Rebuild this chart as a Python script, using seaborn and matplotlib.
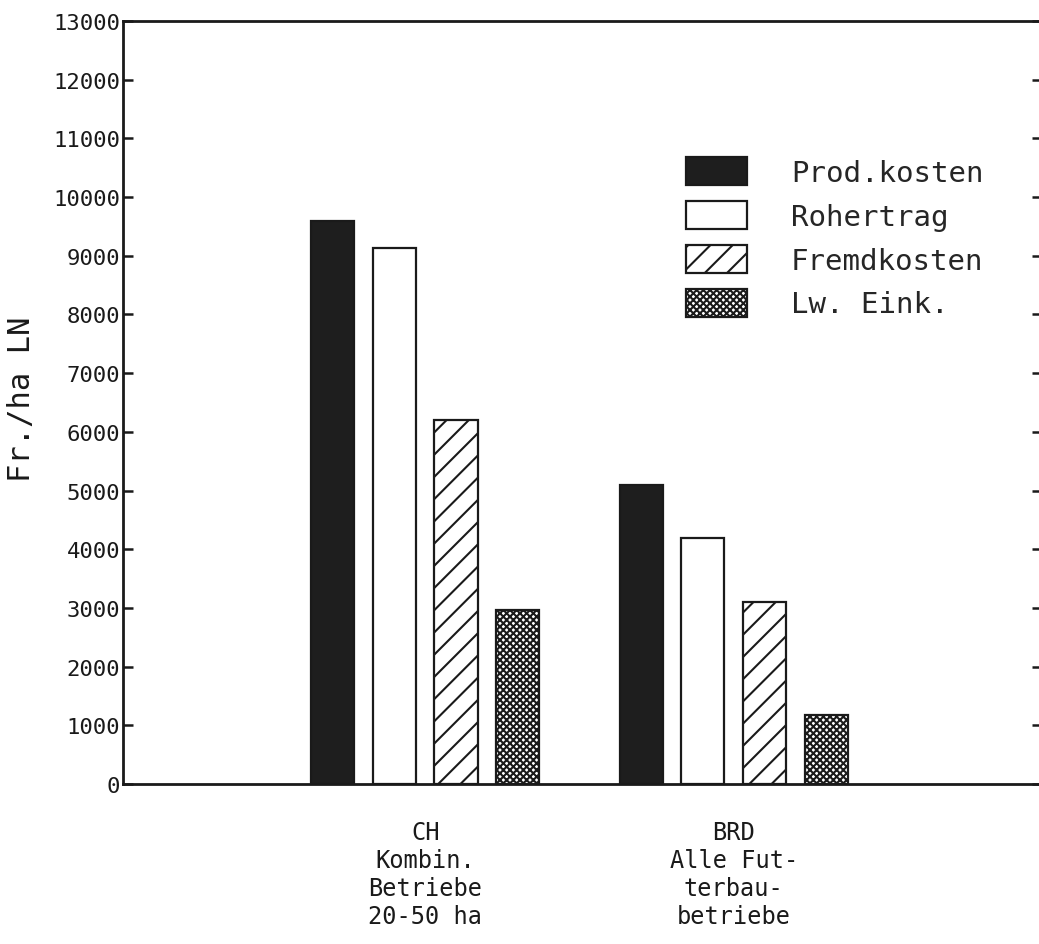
import numpy as np
import pandas as pd
import matplotlib
matplotlib.use("Agg")
import matplotlib.pyplot as plt
import seaborn as sns

# data (Fr./ha LN)
groups = ["CH\nKombin.\nBetriebe\n20-50 ha", "BRD\nAlle Fut-\nterbau-\nbetriebe"]
items = ["Prod.kosten", "Rohertrag", "Fremdkosten", "Lw. Eink."]
ch_values = [9600, 9130, 6200, 2970]
brd_values = [5100, 4200, 3100, 1180]
y_ticks = list(range(0, 13001, 1000))

df = pd.DataFrame({
    "group": [groups[0]] * 4 + [groups[1]] * 4,
    "item": items * 2,
    "value": ch_values + brd_values,
})

sns.set_style("white")
plt.rcParams["font.family"] = ["DejaVu Sans Mono", "DejaVu Sans"]
plt.rcParams["hatch.linewidth"] = 0.75
plt.rcParams["hatch.color"] = "#1a1a1a"

# high dpi so the hatch spacing matches the scan
DPI = 200
fig = plt.figure(figsize=(1039 / DPI, 945 / DPI), dpi=DPI)
ax = fig.add_axes([0.1184, 0.1693, 0.8845, 0.8074])

palette = {"Prod.kosten": "#1e1e1e", "Rohertrag": "white",
           "Fremdkosten": "white", "Lw. Eink.": "white"}
sns.barplot(data=df, x="group", y="value", hue="item", hue_order=items,
            palette=palette, saturation=1, gap=0.3, errorbar=None,
            edgecolor="#1a1a1a", linewidth=0.8, legend=False, ax=ax)

hatches = ["", "", "///", "x" * 10]
for cont, h in zip(ax.containers, hatches):
    for bar in cont:
        bar.set_hatch(h)

ax.set_xlim(-0.98, 2.0)
ax.set_ylim(0, 13000)
ax.set_yticks(y_ticks)
ax.set_yticklabels([str(v) for v in y_ticks], fontsize=8)
ax.tick_params(axis="y", direction="in", length=3.6, width=0.9,
               right=True, left=True, pad=1, colors="#1a1a1a")
ax.tick_params(axis="x", length=0, pad=13, labelsize=8.5, colors="#1a1a1a")
plt.setp(ax.get_xticklabels(), linespacing=1.2)

for side in ["left", "right", "top", "bottom"]:
    ax.spines[side].set_visible(True)
    ax.spines[side].set_linewidth(1.0)
    ax.spines[side].set_color("#1a1a1a")

ax.set_xlabel("")
ax.set_ylabel("Fr./ha LN", fontsize=11, color="#1a1a1a")
ax.yaxis.set_label_coords(-0.095, 0.505)

ax.legend(ax.containers, items, loc="upper left",
          bbox_to_anchor=(0.6126, 0.822), frameon=False, fontsize=10.5,
          handlelength=2.1, handleheight=1.1, labelspacing=0.48,
          handletextpad=1.5, borderaxespad=0, borderpad=0)

fig.savefig("out.png", dpi=DPI)
